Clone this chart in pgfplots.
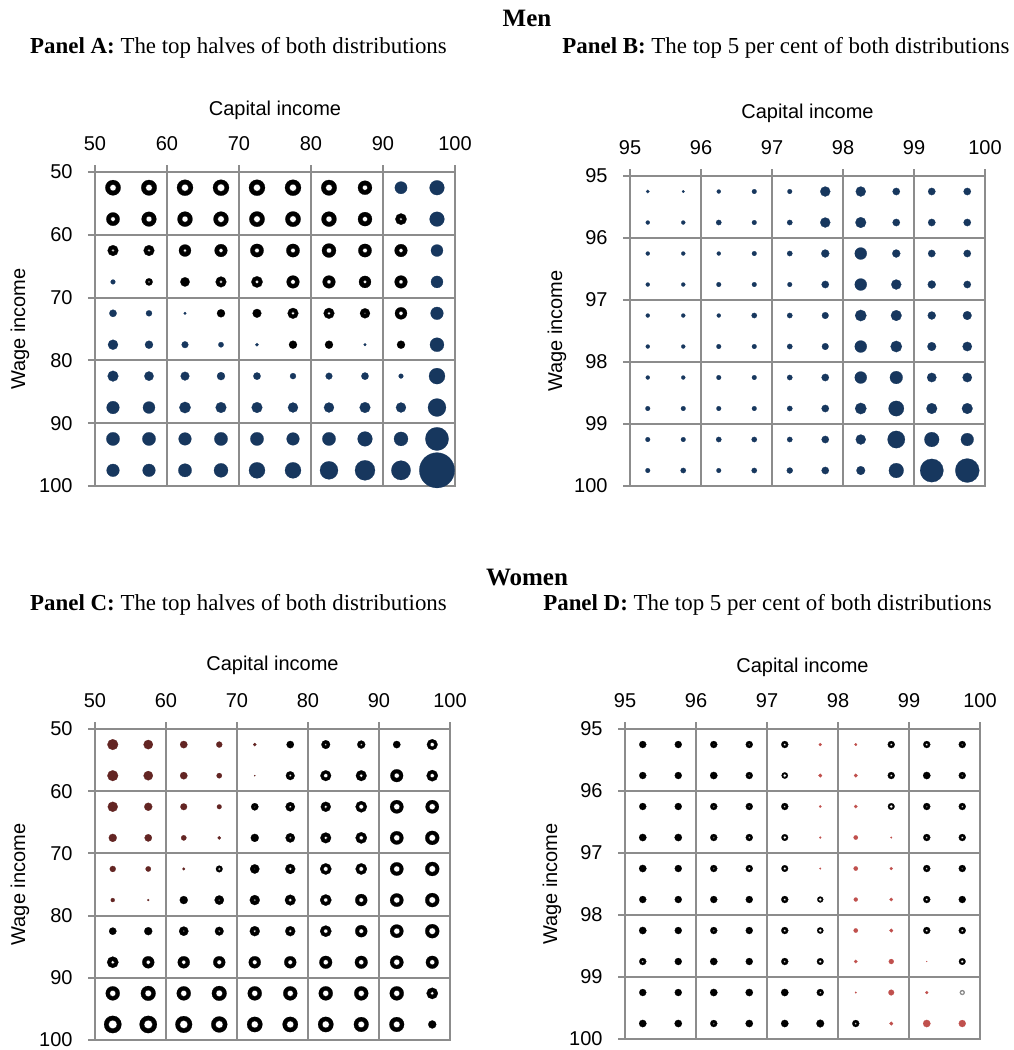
\documentclass[border=0pt]{standalone}
\usepackage{pgfplots}
\pgfplotsset{compat=1.18}
\usepackage{pgfplotstable}
\usepackage{fontspec}
\setmainfont{Liberation Serif}
\newfontfamily\arial{Liberation Sans}
\definecolor{navy}{HTML}{17375E}
\definecolor{maroon}{HTML}{632523}
\definecolor{lred}{HTML}{C0504D}
\definecolor{gridgray}{HTML}{8C8C8C}

% Panel A: positive (navy) bubbles, diameter d in px
\pgfplotstableread{
x y d
92.5 52.5 12.3
97.5 52.5 14.7
97.5 57.5 14.7
97.5 62.5 12
52.5 67.5 4.7
97.5 67.5 12
52.5 72.5 7.3
57.5 72.5 6
62.5 72.5 2.7
97.5 72.5 12.7
52.5 77.5 10
57.5 77.5 8
62.5 77.5 6.7
67.5 77.5 5.3
72.5 77.5 3.3
87.5 77.5 2.7
97.5 77.5 14
52.5 82.5 10.7
57.5 82.5 9.3
62.5 82.5 8.7
67.5 82.5 8
72.5 82.5 7.3
77.5 82.5 6
82.5 82.5 6.7
87.5 82.5 7.3
92.5 82.5 4.7
97.5 82.5 16
52.5 87.5 12.7
57.5 87.5 12
62.5 87.5 11.3
67.5 87.5 10.7
72.5 87.5 10.7
77.5 87.5 10
82.5 87.5 10
87.5 87.5 10.7
92.5 87.5 10
97.5 87.5 18
52.5 92.5 13.3
57.5 92.5 13.3
62.5 92.5 12.7
67.5 92.5 13.3
72.5 92.5 13.3
77.5 92.5 12.7
82.5 92.5 13.3
87.5 92.5 14.7
92.5 92.5 14
97.5 92.5 23.3
52.5 97.5 12.7
57.5 97.5 12.7
62.5 97.5 13.3
67.5 97.5 14
72.5 97.5 16
77.5 97.5 16
82.5 97.5 18
87.5 97.5 20
92.5 97.5 19.3
97.5 97.5 35.3
}\tabApos

% Panel A: negative bubbles (rings), outer diameter d, hole h in px
\pgfplotstableread{
x y d h
52.5 52.5 15.3 6.3
57.5 52.5 15.5 6.5
62.5 52.5 16 7
67.5 52.5 16 7.5
72.5 52.5 16 7
77.5 52.5 16 7
82.5 52.5 15.5 6.5
87.5 52.5 14 5
52.5 57.5 13.3 4.5
57.5 57.5 14.7 5.7
62.5 57.5 15 6
67.5 57.5 15 6.5
72.5 57.5 15.3 6.5
77.5 57.5 15.3 6.5
82.5 57.5 15 6
87.5 57.5 14 5
92.5 57.5 11.3 2.7
52.5 62.5 10.7 2.7
57.5 62.5 10.7 2.7
62.5 62.5 12 3.5
67.5 62.5 12.7 4
72.5 62.5 13.3 4.5
77.5 62.5 13.3 4.5
82.5 62.5 14 5
87.5 62.5 13.3 4.5
92.5 62.5 12.7 4
57.5 67.5 7.3 2
62.5 67.5 9.3 0
67.5 67.5 10.7 3
72.5 67.5 11.3 3.5
77.5 67.5 12.7 4.5
82.5 67.5 12.7 4
87.5 67.5 12 3.5
92.5 67.5 12.7 4
67.5 72.5 8 0
72.5 72.5 8.7 0
77.5 72.5 10.7 3.3
82.5 72.5 10.7 3
87.5 72.5 10 1.5
92.5 72.5 12 4
77.5 77.5 8 0
82.5 77.5 8 0
92.5 77.5 8 0
}\tabAneg

% Panel B: all positive (navy)
\pgfplotstableread{
x y d
95.25 95.25 3.3
95.75 95.25 2.7
96.25 95.25 4
96.75 95.25 4.7
97.25 95.25 4.7
97.75 95.25 10
98.25 95.25 10
98.75 95.25 7.3
99.25 95.25 7.3
99.75 95.25 7.3
95.25 95.75 4
95.75 95.75 4
96.25 95.75 5.3
96.75 95.75 4.7
97.25 95.75 5.3
97.75 95.75 10
98.25 95.75 10.7
98.75 95.75 7.3
99.25 95.75 7.3
99.75 95.75 7.3
95.25 96.25 4
95.75 96.25 4
96.25 96.25 4
96.75 96.25 4.7
97.25 96.25 5.3
97.75 96.25 8
98.25 96.25 12
98.75 96.25 8
99.25 96.25 7.3
99.75 96.25 7.3
95.25 96.75 4
95.75 96.75 4
96.25 96.75 4.7
96.75 96.75 4.7
97.25 96.75 4.7
97.75 96.75 7.3
98.25 96.75 12
98.75 96.75 10
99.25 96.75 8
99.75 96.75 7.3
95.25 97.25 4
95.75 97.25 4
96.25 97.25 4
96.75 97.25 5.3
97.25 97.25 5.3
97.75 97.25 6.7
98.25 97.25 11.3
98.75 97.25 10.7
99.25 97.25 8
99.75 97.25 8.7
95.25 97.75 4
95.75 97.75 4
96.25 97.75 4.7
96.75 97.75 4.7
97.25 97.75 5.3
97.75 97.75 6.7
98.25 97.75 12
98.75 97.75 11.3
99.25 97.75 8.7
99.75 97.75 9.3
95.25 98.25 4
95.75 98.25 4
96.25 98.25 4.7
96.75 98.25 4.7
97.25 98.25 5.3
97.75 98.25 7.3
98.25 98.25 12
98.75 98.25 12.7
99.25 98.25 9.3
99.75 98.25 9.3
95.25 98.75 4.7
95.75 98.75 4.7
96.25 98.75 4.7
96.75 98.75 4.7
97.25 98.75 5.3
97.75 98.75 7.3
98.25 98.75 11.3
98.75 98.75 15.3
99.25 98.75 10.7
99.75 98.75 10.7
95.25 99.25 4.7
95.75 99.25 4.7
96.25 99.25 5.3
96.75 99.25 5.3
97.25 99.25 5.3
97.75 99.25 7.3
98.25 99.25 10
98.75 99.25 17.3
99.25 99.25 14.7
99.75 99.25 12.7
95.25 99.75 4.7
95.75 99.75 5.3
96.25 99.75 4.7
96.75 99.75 5.3
97.25 99.75 6
97.75 99.75 7.3
98.25 99.75 8.7
98.75 99.75 14.7
99.25 99.75 23.3
99.75 99.75 24
}\tabBpos

% Panel C: positive (dark red)
\pgfplotstableread{
x y d
52.5 52.5 10.7
57.5 52.5 9.3
62.5 52.5 7.3
67.5 52.5 6
72.5 52.5 3.3
52.5 57.5 10.7
57.5 57.5 9.3
62.5 57.5 7.3
67.5 57.5 5.3
72.5 57.5 1.3
52.5 62.5 10
57.5 62.5 8
62.5 62.5 6.7
67.5 62.5 4.7
52.5 67.5 8
57.5 67.5 7.3
62.5 67.5 5.3
67.5 67.5 3.3
52.5 72.5 6
57.5 72.5 5.3
62.5 72.5 2.7
52.5 77.5 4
57.5 77.5 2
}\tabCpos

% Panel C: negative (rings)
\pgfplotstableread{
x y d h
77.5 52.5 7.3 0
82.5 52.5 8.7 2
87.5 52.5 8 2
92.5 52.5 7.3 0
97.5 52.5 10.7 4
77.5 57.5 8.7 2.5
82.5 57.5 10.7 4
87.5 57.5 10.7 3.5
92.5 57.5 12.7 5
97.5 57.5 11.3 4
72.5 62.5 7.3 1
77.5 62.5 9.3 2.5
82.5 62.5 10 3
87.5 62.5 11.3 4.5
92.5 62.5 13.3 6
97.5 62.5 13.3 6
72.5 67.5 8 0
77.5 67.5 9.3 2.5
82.5 67.5 10.7 3.5
87.5 67.5 11.3 4
92.5 67.5 13.3 6
97.5 67.5 14 6.5
67.5 72.5 6.7 2.7
72.5 72.5 9.3 0.8
77.5 72.5 10 3
82.5 72.5 11.3 4.5
87.5 72.5 11.3 4.5
92.5 72.5 13.3 6
97.5 72.5 14 6.5
62.5 77.5 8 0
67.5 77.5 9.3 1.5
72.5 77.5 10 2
77.5 77.5 10.7 3.5
82.5 77.5 11.3 4
87.5 77.5 12 4.5
92.5 77.5 13.3 6
97.5 77.5 14 6.5
52.5 82.5 7.3 0
57.5 82.5 8 0
62.5 82.5 9.3 1.5
67.5 82.5 8.7 2
72.5 82.5 10 2.5
77.5 82.5 10 3
82.5 82.5 11.3 4
87.5 82.5 12 4.5
92.5 82.5 13.3 6
97.5 82.5 14 6.5
52.5 87.5 11.3 3.5
57.5 87.5 12 4
62.5 87.5 12 4
67.5 87.5 12 4.5
72.5 87.5 12 4.5
77.5 87.5 12 4.5
82.5 87.5 12.7 5
87.5 87.5 12.7 5
92.5 87.5 13.3 6
97.5 87.5 12.7 5
52.5 92.5 14 6
57.5 92.5 14.7 6.5
62.5 92.5 14 6
67.5 92.5 14.7 6.5
72.5 92.5 14 6
77.5 92.5 14 6
82.5 92.5 14 6
87.5 92.5 14 6
92.5 92.5 14 6
97.5 92.5 11.3 3.5
52.5 97.5 17.3 8.5
57.5 97.5 17.3 8.5
62.5 97.5 16.7 8
67.5 97.5 16 7.5
72.5 97.5 15.3 7
77.5 97.5 15.3 7
82.5 97.5 15.3 7
87.5 97.5 14.7 6.5
92.5 97.5 14.7 6.5
97.5 97.5 8 0
}\tabCneg

% Panel D: positive (light red)
\pgfplotstableread{
x y d
97.75 95.25 3
98.25 95.25 2.7
97.75 95.75 3.7
98.25 95.75 3.7
97.75 96.25 2.3
98.25 96.25 3.3
97.75 96.75 2
98.25 96.75 4.3
98.75 96.75 1.7
97.75 97.25 1.7
98.25 97.25 4.3
98.75 97.25 3
98.25 97.75 4
98.75 97.75 3.3
98.25 98.25 4.3
98.75 98.25 3.7
98.25 98.75 3.3
98.75 98.75 5
99.25 98.75 0.8
98.25 99.25 1.7
98.75 99.25 5.7
99.25 99.25 3
98.75 99.75 3.7
99.25 99.75 7.3
99.75 99.75 7
}\tabDpos

% Panel D: negative (black)
\pgfplotstableread{
x y d h
95.25 95.25 7 0
95.75 95.25 7 0
96.25 95.25 7 1
96.75 95.25 7 1.5
97.25 95.25 7 2.5
98.75 95.25 7 2.5
99.25 95.25 7 2.5
99.75 95.25 7 1.5
95.25 95.75 7 0
95.75 95.75 7 0
96.25 95.75 7.3 0
96.75 95.75 7 1.5
97.25 95.75 6.3 3.5
98.75 95.75 7 2.5
99.25 95.75 7.3 0
99.75 95.75 7 1.5
95.25 96.25 7 0
95.75 96.25 7 0
96.25 96.25 7 1.5
96.75 96.25 7 1.5
97.25 96.25 7 2
98.75 96.25 6.7 3.5
99.25 96.25 7 1.5
99.75 96.25 7 2
95.25 96.75 7.3 0
95.75 96.75 7.3 0
96.25 96.75 7 1.5
96.75 96.75 7 2
97.25 96.75 6.7 3.3
99.25 96.75 7 2
99.75 96.75 7 2.5
95.25 97.25 7.3 0
95.75 97.25 7 0
96.25 97.25 7 1.5
96.75 97.25 7 2.5
97.25 97.25 6.7 3
99.25 97.25 7 2
99.75 97.25 7 1.5
95.25 97.75 7 0
95.75 97.75 7 1
96.25 97.75 7 0
96.75 97.75 7 0.5
97.25 97.75 7 2.5
97.75 97.75 6 3.5
99.25 97.75 7 2.5
99.75 97.75 7 0
95.25 98.25 7.3 0
95.75 98.25 7 0
96.25 98.25 7 1.5
96.75 98.25 7 1
97.25 98.25 7 2.5
97.75 98.25 6.3 3.5
99.25 98.25 7 2.5
99.75 98.25 7 2.5
95.25 98.75 7 2
95.75 98.75 7 0
96.25 98.75 7.3 0
96.75 98.75 7 0
97.25 98.75 7 2
97.75 98.75 6.7 3
99.75 98.75 6.7 3
95.25 99.25 7 0
95.75 99.25 7 0
96.25 99.25 7.3 0
96.75 99.25 7.3 0
97.25 99.25 7.3 0
97.75 99.25 7 2
95.25 99.75 7.3 0
95.75 99.75 7.3 0
96.25 99.75 7 1.5
96.75 99.75 7.3 0
97.25 99.75 7.3 0
97.75 99.75 7.7 0
98.25 99.75 7 2
}\tabDneg

\pgfplotstableread{
x y d h
99.75 99.25 5 3.5
}\tabDgray

\pgfplotsset{
  panel/.style={
    scale only axis, y dir=reverse,
    enlargelimits=false,
    axis line style={draw=gridgray, line width=1pt},
    grid=major, major grid style={draw=gridgray, line width=1pt},
    major tick style={draw=gridgray, line width=1pt},
    tick align=center, major tick length=7pt,
    xtick pos=right, xticklabel pos=right,
    ytick pos=left, yticklabel pos=left,
    tick label style={font=\arial\fontsize{10}{12}\selectfont},
    /pgf/number format/assume math mode=true,
    xticklabel style={anchor=center, inner sep=0pt, yshift=10.5pt},
    yticklabel style={anchor=east, inner sep=0pt, xshift=-7.5pt},
  },
  bub/.style={scatter, only marks, mark=*, line width=0.1pt,
    scatter/use mapped color={draw=#1, fill=#1},
    visualization depends on={\thisrow{d}/4 \as \bubr},
    scatter/@pre marker code/.append style={/tikz/mark size=\bubr}},
  hole/.style={scatter, only marks, mark=*, line width=0.1pt,
    scatter/use mapped color={draw=#1, fill=white},
    visualization depends on={\thisrow{h}/4 \as \bubr},
    scatter/@pre marker code/.append style={/tikz/mark size=\bubr}},
}

\begin{document}
\begin{tikzpicture}
\path[use as bounding box] (0,0) rectangle (506.5pt,-525pt);

% Titles
\node[font=\bfseries\fontsize{12.5}{15}\selectfont] at (263.5pt,-9pt) {Men};
\node[font=\fontsize{11.45}{14}\selectfont] at (119.25pt,-24pt) {\textbf{Panel A:} The top halves of both distributions};
\node[font=\fontsize{11.45}{14}\selectfont] at (393pt,-24pt) {\textbf{Panel B:} The top 5 per cent of both distributions};
\node[font=\bfseries\fontsize{12.5}{15}\selectfont] at (263.5pt,-288.5pt) {Women};
\node[font=\fontsize{11.45}{14}\selectfont] at (119.25pt,-302.5pt) {\textbf{Panel C:} The top halves of both distributions};
\node[font=\fontsize{11.45}{14}\selectfont] at (383.75pt,-302.5pt) {\textbf{Panel D:} The top 5 per cent of both distributions};

% Axis labels
\begin{scope}[font=\arial\fontsize{10}{12}\selectfont]
\node at (137.5pt,-55pt) {Capital income};
\node at (403.75pt,-56.5pt) {Capital income};
\node at (136.25pt,-332.5pt) {Capital income};
\node at (401.25pt,-333.5pt) {Capital income};
\node[rotate=90] at (10pt,-164.5pt) {Wage income};
\node[rotate=90] at (278.5pt,-165.5pt) {Wage income};
\node[rotate=90] at (10pt,-442.25pt) {Wage income};
\node[rotate=90] at (276pt,-442pt) {Wage income};
\end{scope}

% Panel A
\begin{axis}[panel, at={(47.5pt,-86pt)}, anchor=north west,
  width=180pt, height=157pt,
  xmin=50, xmax=100, ymin=50, ymax=100,
  xtick={50,60,...,100}, ytick={50,60,...,100}]
\addplot[bub=navy] table {\tabApos};
\addplot[bub=black] table {\tabAneg};
\addplot[hole=black] table {\tabAneg};
\end{axis}

% Panel B
\begin{axis}[panel, at={(315pt,-88pt)}, anchor=north west,
  width=177.5pt, height=155pt,
  xmin=95, xmax=100, ymin=95, ymax=100,
  xtick={95,96,...,100}, ytick={95,96,...,100}]
\addplot[bub=navy] table {\tabBpos};
\end{axis}

% Panel C
\begin{axis}[panel, at={(47.5pt,-364.5pt)}, anchor=north west,
  width=177.5pt, height=155.5pt,
  xmin=50, xmax=100, ymin=50, ymax=100,
  xtick={50,60,...,100}, ytick={50,60,...,100}]
\addplot[bub=maroon] table {\tabCpos};
\addplot[bub=black] table {\tabCneg};
\addplot[hole=black] table {\tabCneg};
\end{axis}

% Panel D
\begin{axis}[panel, at={(312.5pt,-364.5pt)}, anchor=north west,
  width=177.5pt, height=155pt,
  xmin=95, xmax=100, ymin=95, ymax=100,
  xtick={95,96,...,100}, ytick={95,96,...,100}]
\addplot[bub=lred] table {\tabDpos};
\addplot[bub=black] table {\tabDneg};
\addplot[hole=black] table {\tabDneg};
\addplot[bub=gray] table {\tabDgray};
\addplot[hole=gray] table {\tabDgray};
\end{axis}
\end{tikzpicture}
\end{document}
